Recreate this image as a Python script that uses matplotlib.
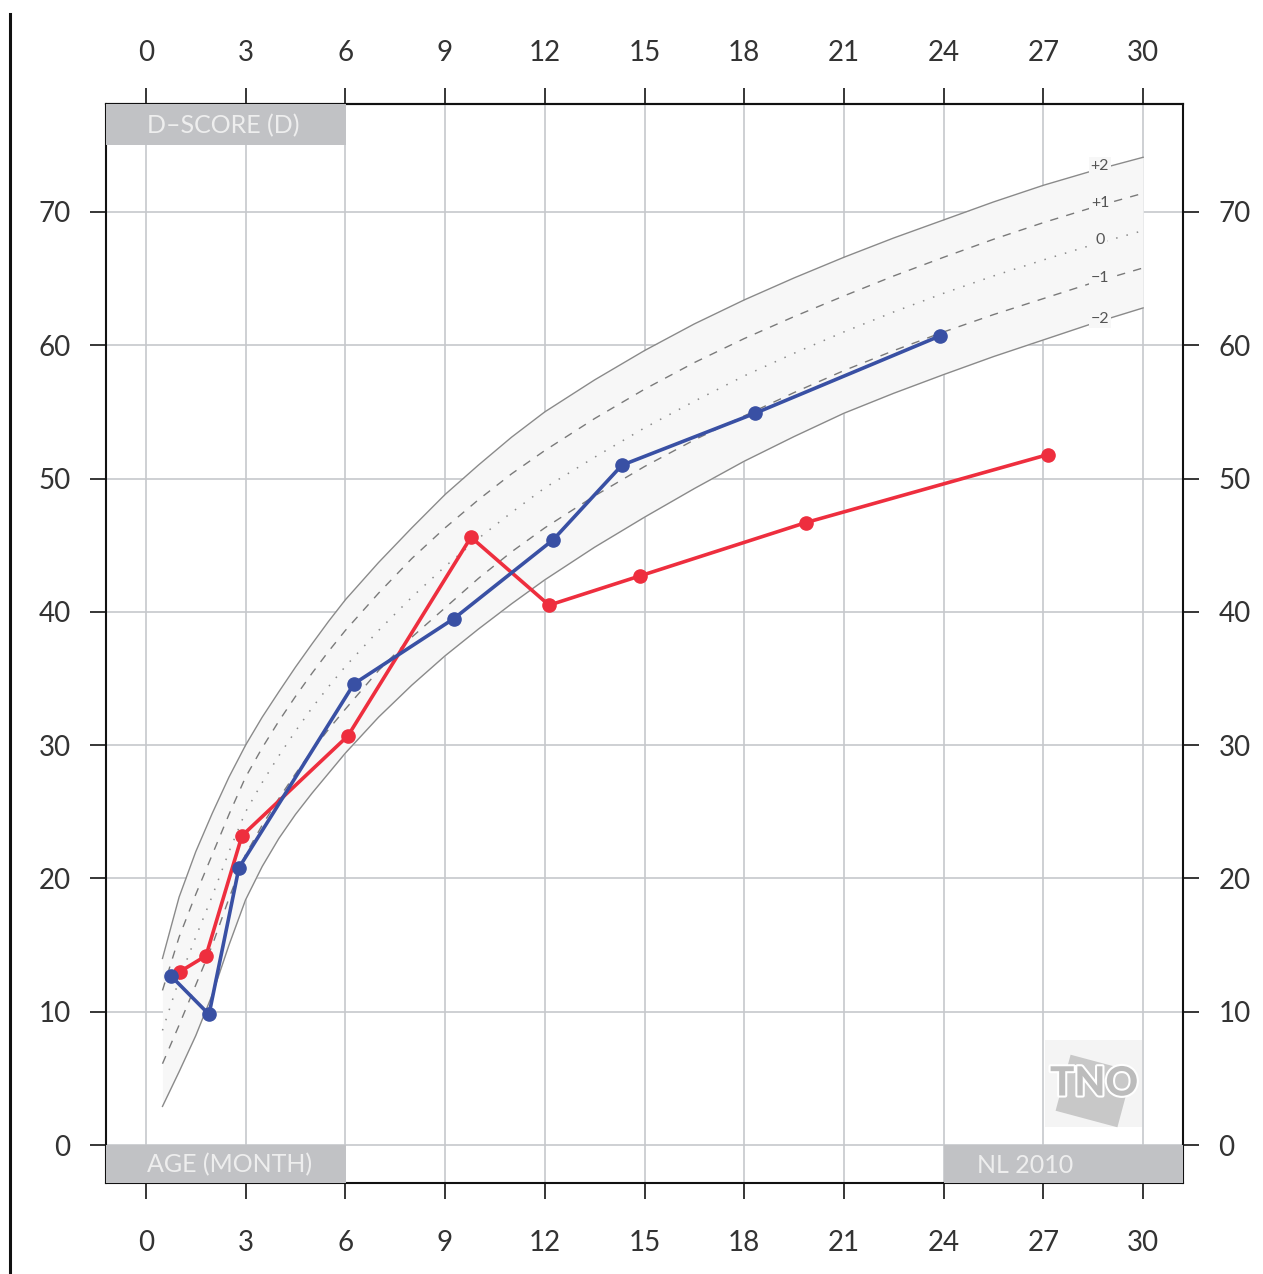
import numpy as np
import matplotlib.pyplot as plt
from matplotlib.patches import Rectangle
from matplotlib.lines import Line2D
from matplotlib.transforms import Affine2D
import matplotlib.patheffects as pe

plt.rcParams['font.family'] = ['Lato', 'DejaVu Sans']

# reference curves (D-score, NL 2010)
ref_age = [0.5, 1, 1.5, 2, 2.5, 3, 3.5, 4, 4.5, 5, 5.5, 6, 7, 8, 9, 10, 11, 12,
           13.5, 15, 16.5, 18, 19.5, 21, 22.5, 24, 25.5, 27, 28.5, 30]
ref_p2 = [14.0, 18.6, 22.0, 24.9, 27.6, 30.0, 32.1, 34.0, 35.85, 37.6, 39.3, 40.9, 43.7, 46.3, 48.8,
          51.0, 53.1, 55.0, 57.4, 59.6, 61.6, 63.4, 65.05, 66.6, 68.05, 69.4, 70.75, 72.0, 73.1, 74.1]
ref_p1 = [11.6, 15.6, 18.8, 21.8, 24.8, 27.6, 29.8, 31.8, 33.65, 35.4, 37.05, 38.6, 41.4, 44.0, 46.3,
          48.4, 50.35, 52.1, 54.5, 56.7, 58.7, 60.5, 62.15, 63.7, 65.2, 66.6, 67.95, 69.2, 70.35, 71.4]
ref_0 = [8.6, 12.4, 15.6, 18.7, 22.0, 25.0, 27.2, 29.2, 31.05, 32.8, 34.4, 35.9, 38.6, 41.1, 43.4,
         45.5, 47.45, 49.3, 51.6, 53.8, 55.8, 57.7, 59.4, 61.0, 62.5, 63.9, 65.2, 66.4, 67.55, 68.6]
ref_m1 = [6.1, 9.0, 12.0, 15.0, 18.5, 21.8, 24.0, 26.0, 27.85, 29.6, 31.2, 32.7, 35.6, 38.1, 40.3,
          42.5, 44.5, 46.3, 48.7, 50.9, 52.9, 54.7, 56.45, 58.1, 59.6, 61.0, 62.3, 63.5, 64.7, 65.8]
ref_m2 = [2.9, 5.5, 8.2, 11.3, 15.0, 18.4, 20.9, 23.0, 24.8, 26.4, 27.9, 29.4, 32.1, 34.5, 36.7,
          38.7, 40.6, 42.4, 44.85, 47.1, 49.25, 51.3, 53.15, 54.9, 56.4, 57.8, 59.15, 60.4, 61.65, 62.8]
ref_labels = ['+2', '+1', '0', '\u22121', '\u22122']

# child measurements
blue_age = [0.75, 1.90, 2.80, 6.26, 9.27, 12.25, 14.32, 18.33, 23.89]
blue_d = [12.7, 9.8, 20.8, 34.6, 39.5, 45.4, 51.0, 54.9, 60.7]
red_age = [1.02, 1.81, 2.89, 6.08, 9.78, 12.13, 14.87, 19.86, 27.14]
red_d = [13.0, 14.2, 23.2, 30.7, 45.6, 40.5, 42.7, 46.7, 51.8]

x_ticks = np.arange(0, 31, 3)
y_ticks = np.arange(0, 71, 10)

fig = plt.figure(figsize=(12.63, 12.74), dpi=100)
ax = fig.add_axes([0.0839, 0.0714, 0.8528, 0.847])
xmin, xmax = -1.2, 31.2
ymin, ymax = -2.85, 78.1
ax.set_xlim(xmin, xmax)
ax.set_ylim(ymin, ymax)

# grid
ax.set_xticks(x_ticks)
ax.set_yticks(y_ticks)
ax.grid(True, color='#c6c8cc', lw=1.2, zorder=0)
ax.set_axisbelow(True)

# reference band
band = '#f7f7f7'
ax.fill_between(ref_age, ref_m2, ref_p2, color=band, zorder=1, lw=0)
ax.plot(ref_age, ref_p2, color='#8a8a8a', lw=1.0, zorder=2)
ax.plot(ref_age, ref_m2, color='#8a8a8a', lw=1.0, zorder=2)
ax.plot(ref_age, ref_p1, color='#7a7a7a', lw=1.0, ls=(0, (6, 6)), zorder=2)
ax.plot(ref_age, ref_m1, color='#7a7a7a', lw=1.0, ls=(0, (6, 6)), zorder=2)
ax.plot(ref_age, ref_0, color='#8a8a8a', lw=1.1, ls=(0, (1, 6)), zorder=2)

lab_age = 28.7
for curve, lab in zip([ref_p2, ref_p1, ref_0, ref_m1, ref_m2], ref_labels):
    yv = np.interp(lab_age, ref_age, curve)
    ax.text(lab_age, yv + 0.2, lab, fontsize=11.5, color='#555555', ha='center', va='center',
            zorder=3, bbox=dict(facecolor=band, edgecolor='none', pad=1.5))

# child lines
ax.plot(red_age, red_d, color='#ee2e3e', lw=2.6, marker='o', ms=9.5, zorder=5)
ax.plot(blue_age, blue_d, color='#3950a4', lw=2.6, marker='o', ms=9.5, zorder=6)

# gray label boxes
box_c = '#c1c2c5'
txt_c = '#eeeeee'
ax.add_patch(Rectangle((xmin, 75.0), 6.02 - xmin, ymax - 75.0, color=box_c, zorder=4, lw=0))
ax.add_patch(Rectangle((xmin, ymin), 6.02 - xmin, -ymin, color=box_c, zorder=4, lw=0))
ax.add_patch(Rectangle((24.0, ymin), xmax - 24.0, -ymin, color=box_c, zorder=4, lw=0))
ax.text(0.03, 76.5, 'D\u2013SCORE (D)', fontsize=18, color=txt_c, ha='left', va='center', zorder=5)
ax.text(0.03, -1.5, 'AGE (MONTH)', fontsize=18, color=txt_c, ha='left', va='center', zorder=5)
ax.text(25.0, -1.5, 'NL 2010', fontsize=18, color=txt_c, ha='left', va='center', zorder=5)

# TNO logo (simple stand-in, drawn in pixel coordinates)
H = 1274
fig.add_artist(Rectangle((1045, H - 1127), 97, 87, color='#f4f4f4', lw=0, zorder=1,
                         transform=None))
tilt = Rectangle((1062, H - 1120), 64, 58, color='#c8c8c8', lw=0, zorder=2)
tilt.set_transform(Affine2D().rotate_deg_around(1094, H - 1091, -15))
fig.add_artist(tilt)
fig.text(1094 / 1263, 1 - 1084 / H, 'TNO', fontsize=29, fontweight='black', color='#bcbcbc',
         ha='center', va='center', zorder=3,
         path_effects=[pe.withStroke(linewidth=3, foreground='white')])

# ticks on all sides
tick_kw = dict(direction='out', length=11.5, width=1.1, color='black',
               labelsize=20, labelcolor='#333333')
ax.tick_params(axis='both', right=True, labelright=True, **tick_kw)
ax.tick_params(axis='x', pad=22)
ax.tick_params(axis='y', pad=14)
top = ax.secondary_xaxis('top')
top.set_xticks(x_ticks)
top.tick_params(axis='x', pad=16, **tick_kw)
for s in list(ax.spines.values()) + [top.spines['top']]:
    s.set_linewidth(1.5)
    s.set_color('#111111')

# page edge line on the left
fig.add_artist(Line2D([0.0083, 0.0083], [0.0, 0.989], color='#111111', lw=2.2))

fig.savefig('out.png', dpi=100)
